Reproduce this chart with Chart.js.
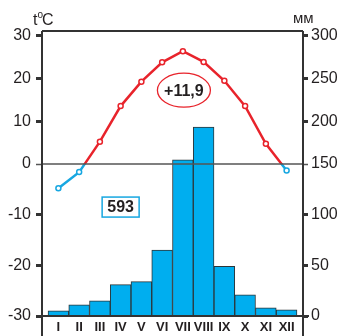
<!DOCTYPE html>
<html>
<head>
<meta charset="utf-8">
<script src="https://cdn.jsdelivr.net/npm/chart.js@4.4.1/dist/chart.umd.min.js"></script>
<style>
    html, body { margin: 0; padding: 0; background: #fff; }
    #wrap { width: 337px; height: 336px; position: relative; }
</style>
</head>
<body>
<div id="wrap"><canvas id="climateChart"></canvas></div>
<script>
// Climate chart data
const months = ['I', 'II', 'III', 'IV', 'V', 'VI', 'VII', 'VIII', 'IX', 'X', 'XI', 'XII'];
const temperature = [-4.8, -1.6, 5.2, 13.5, 19.2, 23.7, 26.3, 23.8, 19.4, 13.5, 4.7, -1.3];
const precipitation = [5, 11, 15, 31, 34, 65, 155, 193, 49, 21, 8, 6];
const tempTicks = [-30, -20, -10, 0, 10, 20, 30];
const precipTicks = [0, 50, 100, 150, 200, 250, 300];
const meanTempLabel = '+11,9';
const totalPrecipLabel = '593';

const RED = '#e8232b';
const BLUE = '#17a7e1';
const BAR = '#00aeef';
const INK = '#231f20';
const FONT = "'Liberation Sans Narrow', 'Liberation Sans', Arial, sans-serif";

// split point of each vertical axis (0 °C and 150 mm sit at the same height)
const splitValue = { yT: 0, yP: 150 };
const splitFraction = 0.4667;

// Linear scale whose upper and lower halves have different steps, as in the printed chart
class SplitScale extends Chart.LinearScale {
    getPixelForValue(value) {
        const mid = splitValue[this.id];
        const midPx = this.top + (this.bottom - this.top) * splitFraction;
        if (value >= mid) {
            return midPx - (value - mid) / (this.max - mid) * (midPx - this.top);
        }
        return midPx + (mid - value) / (mid - this.min) * (this.bottom - midPx);
    }
    getValueForPixel(pixel) {
        const mid = splitValue[this.id];
        const midPx = this.top + (this.bottom - this.top) * splitFraction;
        if (pixel <= midPx) {
            return mid + (midPx - pixel) / (midPx - this.top) * (this.max - mid);
        }
        return mid - (pixel - midPx) / (this.bottom - midPx) * (mid - this.min);
    }
}
SplitScale.id = 'split';
SplitScale.defaults = Chart.LinearScale.defaults;
Chart.register(SplitScale);

// Line colour: red above 0 °C, blue below
function lineGradient(context) {
    const chart = context.chart;
    const area = chart.chartArea;
    if (!area) return RED;
    const zero = chart.scales.yT.getPixelForValue(0);
    const f = Math.min(1, Math.max(0, (zero - area.top) / (area.bottom - area.top)));
    const g = chart.ctx.createLinearGradient(0, area.top, 0, area.bottom);
    g.addColorStop(0, RED);
    g.addColorStop(f, RED);
    g.addColorStop(f, BLUE);
    g.addColorStop(1, BLUE);
    return g;
}

// Frame, zero line and the two boxed notes
const framePlugin = {
    id: 'frame',
    afterDatasetsDraw(chart) {
        const c = chart.ctx;
        const a = chart.chartArea;
        const zero = chart.scales.yT.getPixelForValue(0);
        c.save();
        c.strokeStyle = '#555';
        c.lineWidth = 1.5;
        c.beginPath();
        c.moveTo(a.left, zero);
        c.lineTo(a.right, zero);
        c.stroke();

        c.strokeStyle = '#333';
        c.lineWidth = 2;
        c.beginPath();
        c.moveTo(a.left, a.top);
        c.lineTo(a.left, chart.height);
        c.moveTo(a.right, a.top);
        c.lineTo(a.right, chart.height);
        c.moveTo(a.left, a.top);
        c.lineTo(a.right, a.top);
        c.moveTo(a.left - 6, a.bottom);
        c.lineTo(a.right + 6, a.bottom);
        c.stroke();
        c.restore();
    },
    afterDraw(chart) {
        const c = chart.ctx;
        const x = chart.scales.x;
        const yT = chart.scales.yT;
        c.save();

        // mean temperature in an ellipse
        const ex = x.getPixelForValue(7.05);
        const ey = yT.getPixelForValue(17.2);
        c.fillStyle = '#fff';
        c.strokeStyle = RED;
        c.lineWidth = 1.3;
        c.beginPath();
        c.ellipse(ex, ey, 26.5, 17, 0, 0, Math.PI * 2);
        c.fill();
        c.stroke();
        c.fillStyle = INK;
        c.font = "bold 16px 'Liberation Sans', Arial, sans-serif";
        c.textAlign = 'center';
        c.textBaseline = 'middle';
        c.fillText(meanTempLabel, ex, ey + 1);

        // annual precipitation in a box
        const bx = x.getPixelForValue(4);
        const by = yT.getPixelForValue(-8.5);
        c.fillStyle = '#fff';
        c.strokeStyle = BLUE;
        c.lineWidth = 1.5;
        c.fillRect(bx - 18.5, by - 10, 37, 20);
        c.strokeRect(bx - 18.5, by - 10, 37, 20);
        c.fillStyle = INK;
        c.fillText(totalPrecipLabel, bx, by + 1);

        // axis titles
        c.textAlign = 'left';
        c.textBaseline = 'alphabetic';
        c.font = '16px ' + FONT;
        c.fillText('t', 33, 25);
        c.font = '10px ' + FONT;
        c.fillText('o', 37.5, 18);
        c.font = '16px ' + FONT;
        c.fillText('C', 42, 25);
        c.font = '15px ' + FONT;
        c.fillText('мм', 293, 23);
        c.restore();
    }
};

const ctx = document.getElementById('climateChart');
const climateChart = new Chart(ctx, {
    data: {
        datasets: [{
            type: 'line',
            label: 'Temperature',
            data: temperature.map((t, i) => ({ x: i + 1, y: t })),
            yAxisID: 'yT',
            borderColor: lineGradient,
            borderWidth: 2.5,
            pointRadius: 2.5,
            pointBorderWidth: 1.5,
            pointBackgroundColor: '#fff',
            pointBorderColor: temperature.map(t => t >= 0 ? RED : BLUE),
            tension: 0,
            order: 0
        }, {
            type: 'bar',
            label: 'Precipitation',
            data: precipitation.map((p, i) => ({ x: i + 1, y: p })),
            yAxisID: 'yP',
            backgroundColor: BAR,
            borderColor: '#2d3538',
            borderWidth: 1,
            barPercentage: 1,
            categoryPercentage: 1,
            order: 1
        }]
    },
    options: {
        responsive: true,
        maintainAspectRatio: false,
        animation: false,
        layout: { padding: { top: 31, left: 0, right: 0, bottom: 0 } },
        plugins: {
            legend: { display: false },
            tooltip: { enabled: false }
        },
        scales: {
            x: {
                type: 'linear',
                offset: false,
                min: 0.21,
                max: 12.79,
                afterBuildTicks: scale => {
                    scale.ticks = months.map((m, i) => ({ value: i + 1 }));
                },
                afterFit: scale => { scale.height = 20; },
                grid: { display: false, drawTicks: false, offset: false },
                border: { display: false },
                ticks: {
                    autoSkip: false,
                    maxRotation: 0,
                    padding: 4,
                    color: INK,
                    font: { family: FONT, size: 13, weight: 'bold' },
                    callback: value => months[value - 1] || ''
                }
            },
            yT: {
                type: 'split',
                position: 'left',
                min: -30,
                max: 31,
                afterBuildTicks: scale => {
                    scale.ticks = tempTicks.map(v => ({ value: v }));
                },
                afterFit: scale => { scale.width = 42; },
                border: { display: false },
                grid: {
                    drawOnChartArea: false,
                    tickLength: 6,
                    tickWidth: c => c.tick && c.tick.value === 0 ? 1.5 : 3,
                    tickColor: c => c.tick && c.tick.value === 0 ? '#555' : '#333'
                },
                ticks: {
                    padding: 5,
                    color: INK,
                    font: { family: FONT, size: 16 }
                }
            },
            yP: {
                type: 'split',
                position: 'right',
                min: 0,
                max: 305,
                afterBuildTicks: scale => {
                    scale.ticks = precipTicks.map(v => ({ value: v }));
                },
                afterFit: scale => { scale.width = 34; },
                border: { display: false },
                grid: {
                    drawOnChartArea: false,
                    tickLength: 5,
                    tickWidth: c => c.tick && c.tick.value === 150 ? 1.5 : 3,
                    tickColor: c => c.tick && c.tick.value === 150 ? '#555' : '#333'
                },
                ticks: {
                    padding: 3,
                    color: INK,
                    font: { family: FONT, size: 16 }
                }
            }
        }
    },
    plugins: [framePlugin]
});
</script>
</body>
</html>
